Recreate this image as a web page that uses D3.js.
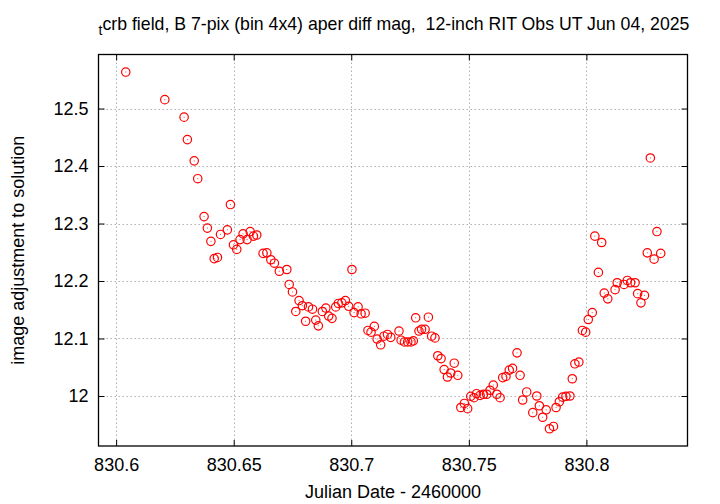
<!DOCTYPE html>
<html>
<head>
<meta charset="utf-8">
<script src="https://cdn.jsdelivr.net/npm/d3@7"></script>
<style>
  html, body { margin: 0; padding: 0; background: #fff; }
  svg { display: block; font-family: "Liberation Sans", Arial, Helvetica, sans-serif; }
</style>
</head>
<body>
<svg id="chart" width="720" height="504"></svg>
<script>
// ---- data ----
const jd = [
  830.6041, 830.6207, 830.6289, 830.6303, 830.6332, 830.6347, 830.6374, 830.6388, 830.6403, 830.6417,
  830.6431, 830.6444, 830.6473, 830.6486, 830.6499, 830.6513, 830.6527, 830.6540, 830.6557, 830.6570,
  830.6584, 830.6598, 830.6625, 830.6641, 830.6658, 830.6673, 830.6694, 830.6726, 830.6736, 830.6750,
  830.6764, 830.6778, 830.6792, 830.6806, 830.6818, 830.6835, 830.6849, 830.6860, 830.6877, 830.6892,
  830.6904, 830.6918, 830.6934, 830.6945, 830.6960, 830.6975, 830.6989, 830.7003, 830.7012, 830.7029,
  830.7042, 830.7059, 830.7071, 830.7084, 830.7098, 830.7110, 830.7125, 830.7139, 830.7154, 830.7168,
  830.7203, 830.7212, 830.7226, 830.7240, 830.7254, 830.7264, 830.7274, 830.7288, 830.7299, 830.7314,
  830.7328, 830.7342, 830.7356, 830.7368, 830.7382, 830.7395, 830.7409, 830.7423, 830.7438, 830.7453,
  830.7466, 830.7481, 830.7495, 830.7508, 830.7522, 830.7533, 830.7548, 830.7562, 830.7576, 830.7590,
  830.7604, 830.7619, 830.7633, 830.7644, 830.7658, 830.7672, 830.7686, 830.7705, 830.7718, 830.7729,
  830.7746, 830.7772, 830.7789, 830.7800, 830.7814, 830.7829, 830.7843, 830.7860, 830.7871, 830.7885,
  830.7899, 830.7913, 830.7930, 830.7940, 830.7951, 830.7968, 830.7983, 830.7997, 830.8008, 830.8025,
  830.8036, 830.8051, 830.8065, 830.8076, 830.8091, 830.8122, 830.8131, 830.8160, 830.8174, 830.8188,
  830.8207, 830.8218, 830.8232, 830.8247, 830.8259, 830.8272, 830.8288, 830.8300, 830.8316
];
const mag = [
  12.5635, 12.5155, 12.485, 12.446, 12.409, 12.378, 12.312, 12.292, 12.269, 12.239,
  12.241, 12.281, 12.289, 12.333, 12.263, 12.255, 12.272, 12.282, 12.272, 12.286,
  12.278, 12.280, 12.248, 12.249, 12.237, 12.231, 12.217, 12.220, 12.194, 12.181,
  12.147, 12.166, 12.157, 12.130, 12.155, 12.151, 12.132, 12.122, 12.147, 12.153,
  12.139, 12.135, 12.155, 12.161, 12.162, 12.166, 12.156, 12.220, 12.145, 12.155,
  12.143, 12.144, 12.114, 12.111, 12.121, 12.099, 12.089, 12.104, 12.107, 12.102,
  12.113, 12.097, 12.094, 12.094, 12.094, 12.096, 12.136, 12.113, 12.116, 12.116,
  12.137, 12.104, 12.101, 12.070, 12.065, 12.046, 12.033, 12.040, 12.057, 12.036,
  11.980, 11.987, 11.978, 11.9995, 11.997, 12.004, 12.001, 12.003, 12.003, 12.010,
  12.019, 12.003, 11.997, 12.032, 12.034, 12.045, 12.048, 12.075, 12.036, 11.993,
  12.007, 11.971, 12.000, 11.983, 11.963, 11.976, 11.943, 11.947, 11.980, 11.990,
  11.998, 11.9995, 12.000, 12.030, 12.056, 12.059, 12.114, 12.111, 12.133, 12.145,
  12.278, 12.215, 12.267, 12.179, 12.169, 12.185, 12.197, 12.194, 12.201, 12.197,
  12.197, 12.178, 12.162, 12.175, 12.249, 12.414, 12.238, 12.286, 12.248
];
const xTicks = [830.6, 830.65, 830.7, 830.75, 830.8];
const xTickLabels = ["830.6", "830.65", "830.7", "830.75", "830.8"];
const yTicks = [12.0, 12.1, 12.2, 12.3, 12.4, 12.5];
const yTickLabels = ["12", "12.1", "12.2", "12.3", "12.4", "12.5"];
const xRange = [830.5925, 830.843];
const yRange = [11.913, 12.594];
const titleSub = "t";
const titleMain = "crb field, B 7-pix (bin 4x4) aper diff mag,  12-inch RIT Obs UT Jun 04, 2025";
const xLabel = "Julian Date - 2460000";
const yLabel = "image adjustment to solution";

// ---- layout ----
const W = 720, H = 504;
const L = 98.5, R = 687.5, T = 54.5, B = 446;
const FS = 18;

const svg = d3.select("#chart");
const x = d3.scaleLinear().domain(xRange).range([L, R]);
const y = d3.scaleLinear().domain(yRange).range([B, T]);

// grid
const grid = svg.append("g").attr("stroke", "#b0b0b0").attr("stroke-width", 1)
  .attr("stroke-dasharray", "1.5,2.5").attr("fill", "none");
grid.selectAll("line.gx").data(xTicks).join("line").attr("class", "gx")
  .attr("x1", d => Math.round(x(d)) + 0.5).attr("x2", d => Math.round(x(d)) + 0.5)
  .attr("y1", T).attr("y2", B);
grid.selectAll("line.gy").data(yTicks).join("line").attr("class", "gy")
  .attr("x1", L).attr("x2", R)
  .attr("y1", d => Math.round(y(d)) + 0.5).attr("y2", d => Math.round(y(d)) + 0.5);

// axes
const fmtX = d => xTickLabels[xTicks.indexOf(d)];
const fmtY = d => yTickLabels[yTicks.indexOf(d)];
const ax = [
  svg.append("g").attr("transform", `translate(0,${B})`)
    .call(d3.axisBottom(x).tickValues(xTicks).tickFormat(fmtX).tickSizeInner(-6).tickSizeOuter(0).tickPadding(12)),
  svg.append("g").attr("transform", `translate(0,${T})`)
    .call(d3.axisTop(x).tickValues(xTicks).tickFormat("").tickSizeInner(-6).tickSizeOuter(0)),
  svg.append("g").attr("transform", `translate(${L},0)`)
    .call(d3.axisLeft(y).tickValues(yTicks).tickFormat(fmtY).tickSizeInner(-6).tickSizeOuter(0).tickPadding(10)),
  svg.append("g").attr("transform", `translate(${R},0)`)
    .call(d3.axisRight(y).tickValues(yTicks).tickFormat("").tickSizeInner(-6).tickSizeOuter(0))
];
ax.forEach(g => {
  g.select(".domain").remove();
  g.selectAll(".tick line").attr("stroke", "#000").attr("stroke-width", 1);
  g.selectAll(".tick text").attr("font-size", FS).attr("fill", "#000")
    .attr("font-family", '"Liberation Sans", Arial, sans-serif');
});

// points
const pts = jd.map((d, i) => ({ x: d, y: mag[i] }));
const pg = svg.append("g");
pg.selectAll("circle.p").data(pts).join("circle").attr("class", "p")
  .attr("cx", d => x(d.x)).attr("cy", d => y(d.y)).attr("r", 4.2)
  .attr("fill", "none").attr("stroke", "#ff0000").attr("stroke-width", 1.2);
pg.selectAll("rect.c").data(pts).join("rect").attr("class", "c")
  .attr("x", d => x(d.x) - 0.5).attr("y", d => y(d.y) - 0.5)
  .attr("width", 1).attr("height", 1).attr("fill", "#ff4040");

// border
svg.append("rect").attr("x", L).attr("y", T).attr("width", R - L).attr("height", B - T)
  .attr("fill", "none").attr("stroke", "#000").attr("stroke-width", 1.3);

// title
const title = svg.append("text").attr("x", (L + R) / 2 + 1).attr("y", 30)
  .attr("text-anchor", "middle").attr("font-size", 17.7).attr("fill", "#000")
  .style("white-space", "pre");
title.append("tspan").attr("font-size", 14).attr("dy", 5).text(titleSub);
title.append("tspan").attr("dy", -5).text(titleMain);

// axis labels
svg.append("text").attr("x", (L + R) / 2).attr("y", 498)
  .attr("text-anchor", "middle").attr("font-size", FS).attr("fill", "#000").text(xLabel);
svg.append("text").attr("transform", `translate(24,${(T + B) / 2}) rotate(-90)`)
  .attr("text-anchor", "middle").attr("font-size", FS).attr("fill", "#000").text(yLabel);
</script>
</body>
</html>
